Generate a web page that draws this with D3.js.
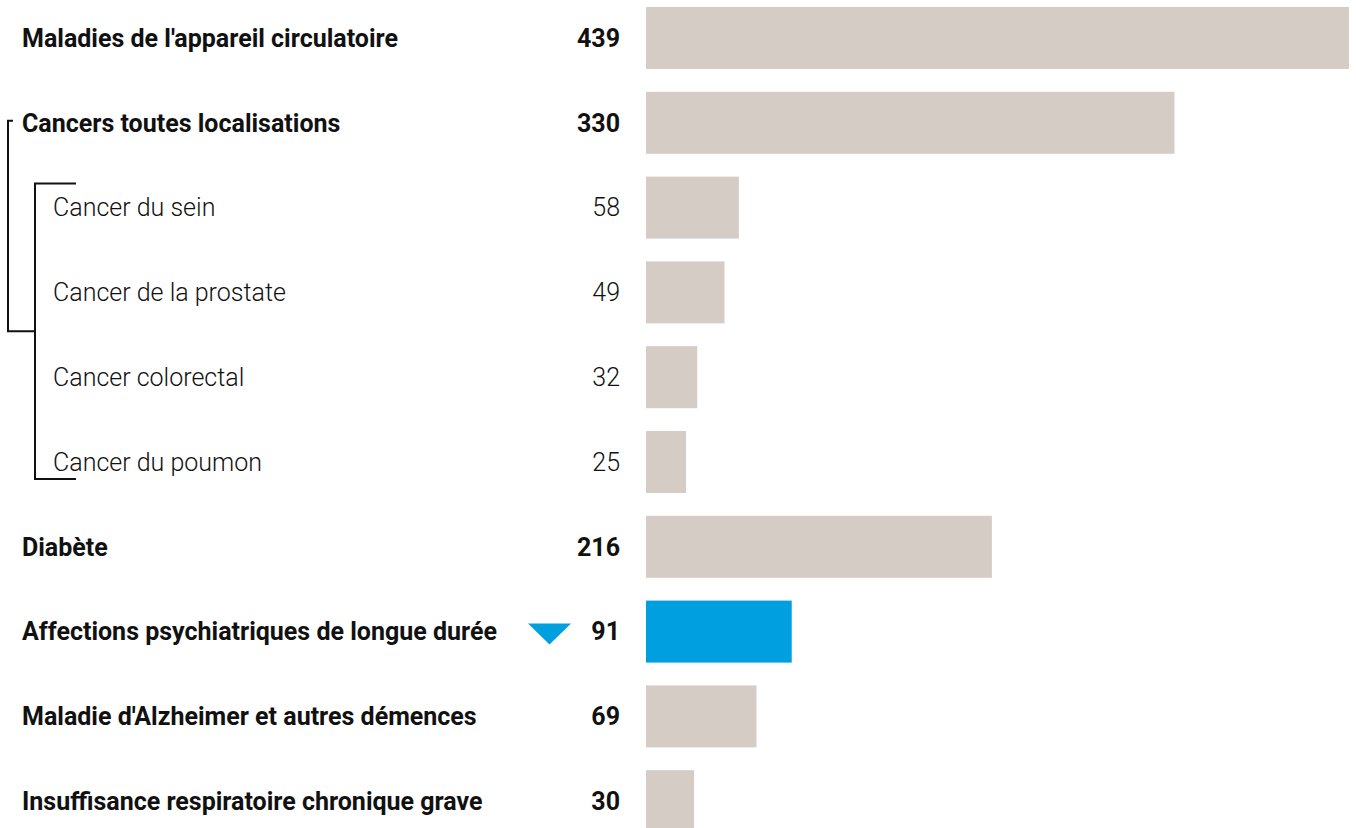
<!DOCTYPE html>
<html lang="fr">
<head>
<meta charset="UTF-8">
<title>Affections de longue durée</title>
<script src="https://d3js.org/d3.v7.min.js"></script>
<style>
    body { margin: 0; background: #fff; }
    svg text { font-family: "Roboto", "Liberation Sans", sans-serif; fill: #111; }
</style>
</head>
<body>
<div id="chart"></div>
<script>
    // data
    const categories = [
        "Maladies de l'appareil circulatoire",
        "Cancers toutes localisations",
        "Cancer du sein",
        "Cancer de la prostate",
        "Cancer colorectal",
        "Cancer du poumon",
        "Diabète",
        "Affections psychiatriques de longue durée",
        "Maladie d'Alzheimer et autres démences",
        "Insuffisance respiratoire chronique grave"
    ];
    const values = [439, 330, 58, 49, 32, 25, 216, 91, 69, 30];
    const subItem = [false, false, true, true, true, true, false, false, false, false];
    const highlighted = "Affections psychiatriques de longue durée";

    const width = 1356, height = 828;
    const barX = 646;

    const svg = d3.select("#chart").append("svg")
        .attr("width", width)
        .attr("height", height);

    const rows = categories.map((c, i) => ({ name: c, value: values[i], sub: subItem[i] }));

    const y = d3.scaleBand()
        .domain(categories)
        .range([-4.4, 843.6])
        .paddingInner(0.269)
        .paddingOuter(0.1345);

    const x = d3.scaleLinear()
        .domain([0, d3.max(values)])
        .range([0, 703]);

    const mid = d => y(d) + y.bandwidth() / 2;

    // bars
    svg.selectAll(".bar")
        .data(rows)
        .enter()
        .append("rect")
        .attr("class", "bar")
        .attr("x", barX)
        .attr("y", d => y(d.name))
        .attr("width", d => x(d.value))
        .attr("height", y.bandwidth())
        .attr("fill", d => d.name === highlighted ? "#009fe0" : "#d5ccc5");

    // category labels
    svg.selectAll(".label")
        .data(rows)
        .enter()
        .append("text")
        .attr("class", "label")
        .attr("x", d => d.sub ? 53 : 22)
        .attr("y", d => mid(d.name))
        .attr("dy", "0.35em")
        .style("font-size", "25px")
        .style("font-weight", d => d.sub ? 300 : 700)
        .text(d => d.name);

    // values
    svg.selectAll(".value")
        .data(rows)
        .enter()
        .append("text")
        .attr("class", "value")
        .attr("x", 620)
        .attr("y", d => mid(d.name))
        .attr("dy", "0.35em")
        .attr("text-anchor", "end")
        .style("font-size", "25px")
        .style("font-weight", d => d.sub ? 300 : 700)
        .text(d => d.value);

    // down arrow next to the highlighted row
    const cy = mid(highlighted);
    svg.append("path")
        .attr("d", `M528,${cy - 8}L571,${cy - 8}L549.5,${cy + 13}Z`)
        .attr("fill", "#009fe0");

    // brackets grouping the cancer rows
    const subs = rows.filter(d => d.sub);
    const innerTop = y(subs[0].name) + 7;
    const innerBottom = y(subs[subs.length - 1].name) + y.bandwidth() - 14;
    const joinY = (innerTop + innerBottom) / 2;
    const outerTop = mid("Cancers toutes localisations") - 2;

    const bracket = svg.append("g")
        .attr("fill", "none")
        .attr("stroke", "#111")
        .attr("stroke-width", 2);

    bracket.append("path")
        .attr("d", `M13,${outerTop}H8V${joinY}H35`);

    bracket.append("path")
        .attr("d", `M76,${innerTop}H35V${innerBottom}H76`);
</script>
</body>
</html>
